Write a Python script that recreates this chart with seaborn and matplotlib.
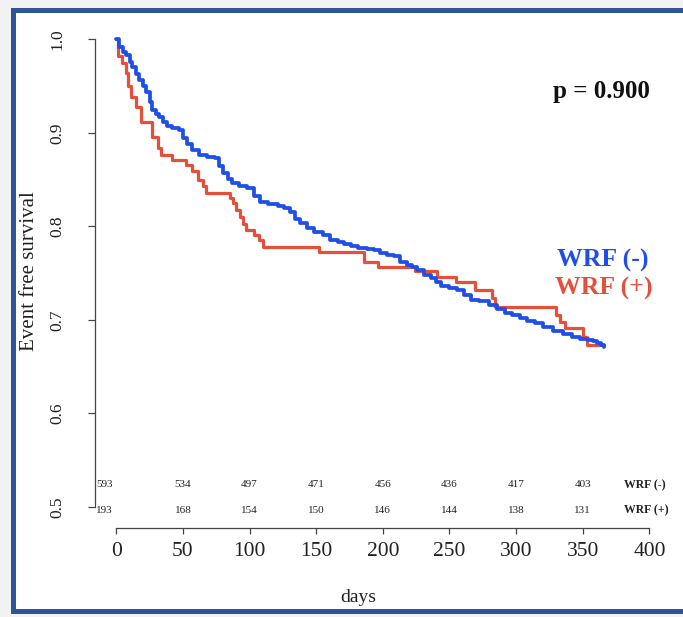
import numpy as np
import pandas as pd
import matplotlib
matplotlib.use('Agg')
import matplotlib.pyplot as plt
from matplotlib.patches import Rectangle
import seaborn as sns

# Kaplan-Meier knots (day, event free survival)
neg_days = [0, 2, 5, 7, 10, 12, 15, 17, 20, 22, 25, 27, 30, 32, 35, 38, 42, 47, 50, 53,
            57, 62, 68, 74, 77, 80, 84, 87, 92, 98, 103, 108, 114, 121, 126, 130, 134, 138,
            143, 148, 155, 160, 166, 171, 176, 181, 188, 193, 198, 203, 208, 213, 218, 222,
            226, 231, 236, 240, 244, 250, 256, 261, 266, 272, 280, 286, 292, 297, 303, 308,
            314, 320, 328, 335, 342, 348, 354, 358, 361, 364, 366]
neg_surv = [1.0, 0.992, 0.987, 0.983, 0.976, 0.971, 0.963, 0.957, 0.950, 0.944, 0.933,
            0.925, 0.920, 0.917, 0.912, 0.907, 0.905, 0.903, 0.895, 0.888, 0.882, 0.876,
            0.874, 0.873, 0.865, 0.857, 0.851, 0.846, 0.843, 0.841, 0.833, 0.826, 0.824,
            0.822, 0.820, 0.816, 0.808, 0.804, 0.798, 0.794, 0.791, 0.786, 0.783, 0.781,
            0.779, 0.777, 0.776, 0.775, 0.772, 0.769, 0.768, 0.762, 0.759, 0.757, 0.753,
            0.748, 0.745, 0.741, 0.736, 0.734, 0.732, 0.727, 0.721, 0.720, 0.716, 0.712,
            0.707, 0.705, 0.702, 0.699, 0.697, 0.693, 0.688, 0.685, 0.682, 0.680, 0.679,
            0.677, 0.675, 0.673, 0.671]

pos_days = [0, 1, 4.5, 7, 8.5, 11, 15, 18.5, 27, 31, 33.5, 42, 52, 57, 61, 65, 67.5, 85,
            87.5, 90, 92.5, 95, 97.5, 103, 107, 110, 152, 186, 196, 224, 241, 255, 269,
            282, 284.5, 330, 333, 337, 350, 353, 366]
pos_surv = [1.0, 0.982, 0.975, 0.964, 0.950, 0.939, 0.928, 0.912, 0.896, 0.884, 0.876,
            0.871, 0.866, 0.859, 0.850, 0.843, 0.836, 0.830, 0.825, 0.818, 0.810, 0.803,
            0.796, 0.791, 0.785, 0.778, 0.773, 0.762, 0.757, 0.752, 0.746, 0.741, 0.732,
            0.723, 0.714, 0.705, 0.698, 0.691, 0.682, 0.673, 0.673]

# numbers at risk
risk_days = [0, 50, 100, 150, 200, 250, 300, 350]
risk_neg = [593, 534, 497, 471, 456, 436, 417, 403]
risk_pos = [193, 168, 154, 150, 146, 144, 138, 131]

blue = '#1f4fe6'
red = '#e4503a'
serif = 'Liberation Serif'

sns.set_style('white')
plt.rcParams['font.family'] = serif

df_neg = pd.DataFrame({'day': neg_days, 'surv': neg_surv})
df_pos = pd.DataFrame({'day': pos_days, 'surv': pos_surv})

fig = plt.figure(figsize=(6.83, 6.17), dpi=100)
fig.set_facecolor('#f2f2f2')
# white card with blue frame
fig.patches.append(Rectangle((12.5 / 683, 1 - 610.5 / 617), 700 / 683, 600.5 / 617,
                             transform=fig.transFigure, facecolor='white',
                             edgecolor='#2f5597', lw=3.6, zorder=-1))

ax = fig.add_axes([95 / 683, 1 - 527.5 / 617, 575.7 / 683, 506.7 / 617])
ax.patch.set_alpha(0)

sns.lineplot(data=df_neg, x='day', y='surv', ax=ax, color=blue, lw=2.7,
             drawstyle='steps-post', estimator=None, zorder=3)
sns.lineplot(data=df_pos, x='day', y='surv', ax=ax, color=red, lw=2.3,
             drawstyle='steps-post', estimator=None, zorder=2)

ax.set_xlim(-16, 416)
ax.set_ylim(0.478, 1.02)

for s in ['top', 'right']:
    ax.spines[s].set_visible(False)
for s in ['left', 'bottom']:
    ax.spines[s].set_color('#444444')
    ax.spines[s].set_linewidth(0.9)
ax.spines['left'].set_bounds(0.5, 1.0)
ax.spines['bottom'].set_bounds(0, 400)

ax.set_xticks(range(0, 401, 50))
ax.set_xticklabels([str(v) for v in range(0, 401, 50)], fontsize=15.5, color='#222222')
ax.set_yticks([0.5, 0.6, 0.7, 0.8, 0.9, 1.0])
ax.set_yticklabels(['0.5', '0.6', '0.7', '0.8', '0.9', '1.0'], fontsize=12.5,
                   rotation=90, va='center', color='#222222')
ax.tick_params(axis='x', direction='out', length=4.5, width=0.9, color='#444444', pad=6,
               bottom=True)
ax.tick_params(axis='y', direction='out', length=5, width=0.9, color='#444444', pad=16,
               left=True)

ax.set_xlabel('days', fontsize=14, color='#222222')
ax.set_ylabel('Event free survival', fontsize=15, color='#222222')
ax.xaxis.set_label_coords(0.458, -0.122)
ax.yaxis.set_label_coords(-0.098, 0.505)

# p value and group labels
ax.text(328, 0.944, 'p = 0.900', fontsize=18, fontweight='bold', color='#111111',
        va='center', ha='left')
ax.text(331, 0.764, 'WRF (-)', fontsize=18.5, fontweight='bold', color=blue,
        va='center', ha='left')
ax.text(329, 0.734, 'WRF (+)', fontsize=18.5, fontweight='bold', color=red,
        va='center', ha='left')

# numbers at risk table
for i, d in enumerate(risk_days):
    xd = -9 if d == 0 else d
    ax.text(xd, 0.5235, str(risk_neg[i]), fontsize=8, ha='center', va='center',
            color='#222222')
    ax.text(xd, 0.496, str(risk_pos[i]), fontsize=8, ha='center', va='center',
            color='#222222')
ax.text(381, 0.5235, 'WRF (-)', fontsize=8.5, fontweight='bold', ha='left', va='center',
        color='#222222')
ax.text(381, 0.496, 'WRF (+)', fontsize=8.5, fontweight='bold', ha='left', va='center',
        color='#222222')

fig.savefig('out.png', dpi=100)
